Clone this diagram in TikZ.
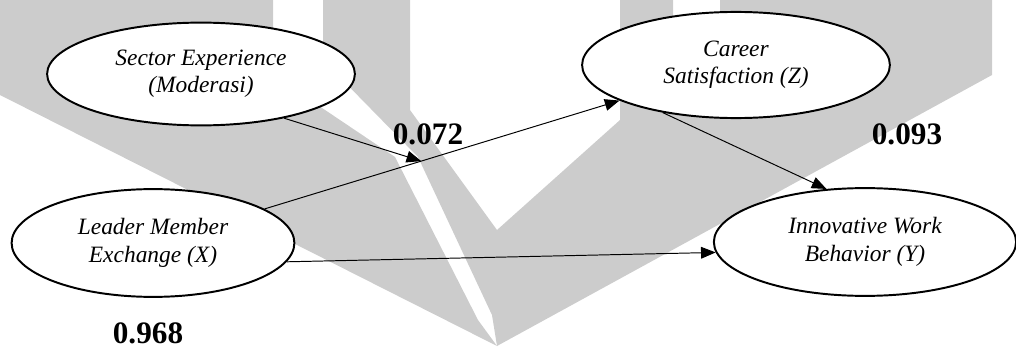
\documentclass[tikz,border=0pt]{standalone}
\usepackage{fontspec}
\setmainfont{Liberation Serif}
\usetikzlibrary{shapes.geometric,arrows.meta,calc,positioning}

\tikzset{
  latent/.style={ellipse,draw,line width=1pt,fill=white,inner sep=0pt,
    align=center,font=\fontsize{12}{14}\selectfont\itshape},
  link/.style={-{Triangle[length=7.5pt,width=6pt]},line width=0.5pt},
  coef/.style={inner sep=1pt,font=\fontsize{16}{19}\selectfont\bfseries},
  mark grey/.style={fill=gray!40},
}

\begin{document}
\begin{tikzpicture}[x=0.18mm,y=-0.18mm]
\useasboundingbox (0,0) rectangle (1016,348);
% logo in the background
\fill[mark grey] (0,0) -- (273,0) -- (273,75) -- (395,157) -- (478,320)
  -- (497,346) -- (0,95) -- cycle;
\fill[mark grey] (323,0) -- (410,0) -- (410,110) -- (497,230) -- (620,120)
  -- (620,0) -- (673,0) -- (673,100) -- (720,100) -- (720,0) -- (992,0)
  -- (992,75) -- (497,346) -- (492,315) -- (418,157) -- (323,60) -- cycle;

% constructs
\node[latent,minimum width=55.4mm,minimum height=18.5mm] (sector) at (201,74)
  {Sector Experience\\(Moderasi)};
\node[latent,minimum width=55.4mm,minimum height=19.1mm] (cs) at (736,65)
  {Career\\Satisfaction (Z)};
\node[latent,minimum width=50.9mm,minimum height=19.4mm] (lmx) at (153,243)
  {Leader Member\\Exchange (X)};
\node[latent,minimum width=54.4mm,minimum height=19.4mm] (iwb) at (865,242)
  {Innovative Work\\Behavior (Y)};

% paths
\draw[link] (lmx) -- (cs);
\coordinate (mod) at ($(lmx)!0.46!(cs)$);
\draw[link] (sector.-28) -- (mod);
\draw[link] (cs.213) -- (iwb.126);
\draw[link] (lmx.-8) -- (iwb.184);

% coefficients
\node[coef] (b1) at (428,134) {0.072};
\node[coef] (b2) at (907,134) {0.093};
\node[coef] (r2) at (148,333) {0.968};
\end{tikzpicture}
\end{document}
